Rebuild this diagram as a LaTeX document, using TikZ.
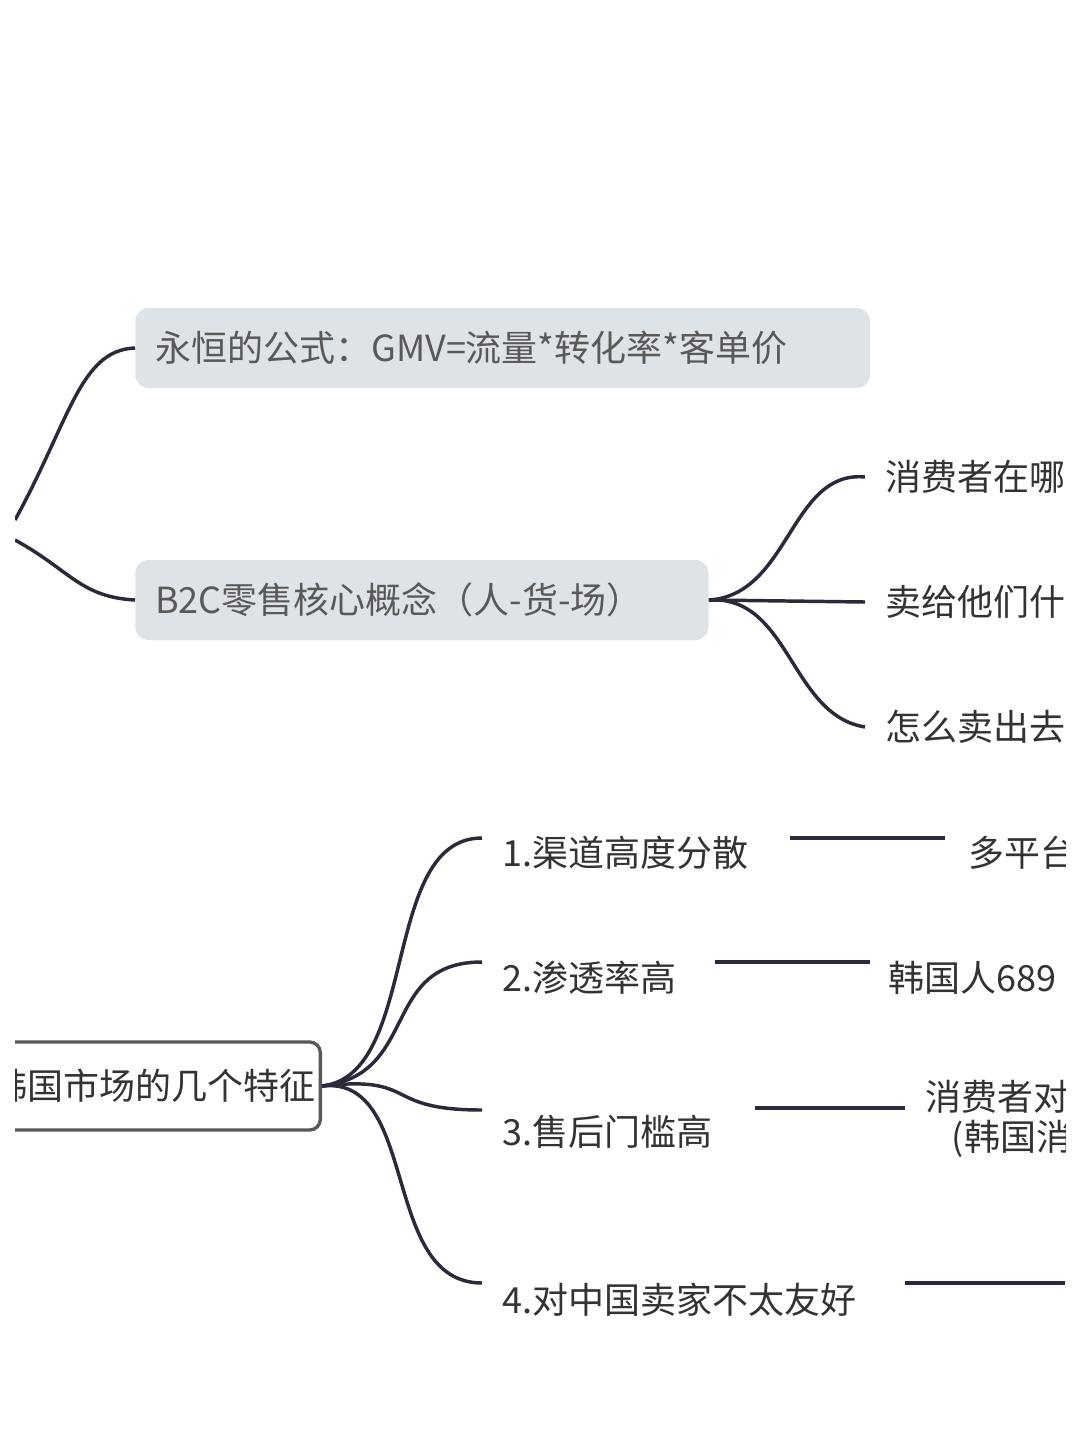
\documentclass[tikz,border=0pt]{standalone}
\usepackage{fontspec}
\setmainfont{Noto Sans CJK SC}
\definecolor{topicfill}{HTML}{DDE3E6}
\definecolor{linedark}{HTML}{2A2A3A}
\tikzset{
  topic/.style={fill=topicfill,rounded corners=10pt,minimum height=60pt,anchor=west,text=black!65,
    font=\fontsize{27}{30}\selectfont,inner xsep=15pt,align=left},
  leaf/.style={anchor=west,text=black!80,font=\fontsize{27}{30}\selectfont,inner sep=0pt},
  branch/.style={draw=linedark,line width=2.6pt}
}
\begin{document}
\begin{tikzpicture}[x=0.75pt,y=-0.75pt]
\useasboundingbox (0,0) rectangle (1080,1439);
\clip (15,0) rectangle (1065,1439);

% upper topics
\node[topic,text width=521pt] (gmv) at (135,348) {永恒的公式：GMV=流量*转化率*客单价};
\node[topic,text width=400pt] (rhc) at (135,600) {B2C零售核心概念（人-货-场）};
\coordinate (root) at (15,530);
\draw[branch] (15,520) .. controls (70,420) and (80,350) .. (gmv.west);
\draw[branch] (15,540) .. controls (70,570) and (80,597) .. (rhc.west);

\node[leaf] (who) at (885,477) {消费者在哪};
\node[leaf] (what) at (885,602) {卖给他们什么};
\node[leaf] (how) at (885,727) {怎么卖出去};
\draw[branch] (rhc.east) .. controls (790,595) and (790,470) .. ([xshift=-15pt]who.west);
\draw[branch] (rhc.east) -- ([xshift=-15pt]what.west);
\draw[branch] (rhc.east) .. controls (790,595) and (790,715) .. ([xshift=-15pt]how.west);

% lower topic
\node[draw=black!65,line width=2.5pt,fill=white,rounded corners=8pt,anchor=east,minimum height=66pt,
  font=\fontsize{27}{30}\selectfont,text=black!80] (kr) at (322,1086) {韩国市场的几个特征};

\node[leaf] (f1) at (502,853) {1.渠道高度分散};
\node[leaf] (f2) at (502,978) {2.渗透率高};
\node[leaf] (f3) at (502,1132) {3.售后门槛高};
\node[leaf] (f4) at (502,1300) {4.对中国卖家不太友好};
\foreach \f/\y in {f1/838,f2/962,f3/1110,f4/1283}
  \draw[branch] (kr.east) .. controls (420,1075) and (380,\y) .. (482,\y);

\node[leaf] (d1) at (968,853) {多平台};
\node[leaf] (d2) at (888,978) {韩国人689};
\node[leaf,align=left,anchor=north west] (d3) at (925,1080) {消费者对\\\hspace*{20pt}(韩国消};
\coordinate (d4) at (1065,1283);
\draw[branch] (790,838) -- (945,838);
\draw[branch] (715,962) -- (870,962);
\draw[branch] (755,1108) -- (905,1108);
\draw[branch] (905,1283) -- (d4);
\end{tikzpicture}
\end{document}
